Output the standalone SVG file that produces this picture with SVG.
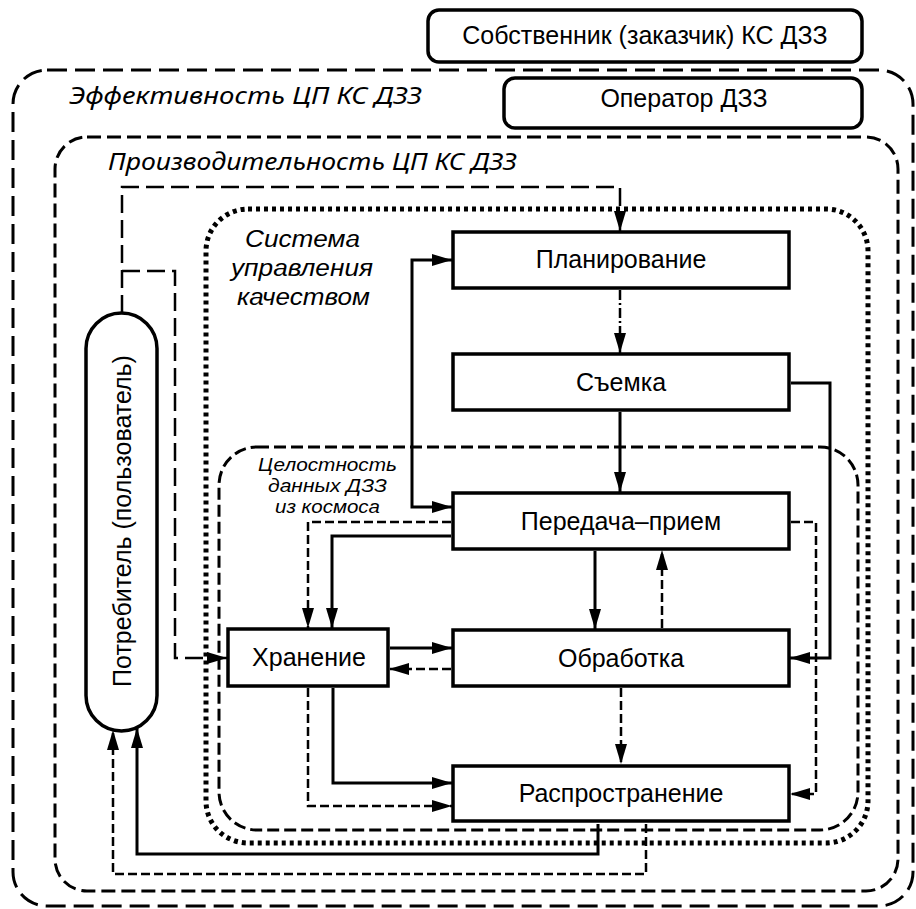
<svg xmlns="http://www.w3.org/2000/svg" width="916" height="909" viewBox="0 0 916 909">
<defs>
<marker id="ah" viewBox="0 0 20 12" refX="20" refY="6" markerWidth="20" markerHeight="12" markerUnits="userSpaceOnUse" orient="auto"><path d="M0,0 L20,6 L0,12 z" fill="#000"/></marker>
</defs>
<style>
.box{fill:#fff;stroke:#000;stroke-width:3.5}
.lbl{font-family:"Liberation Sans",Arial,sans-serif;font-size:25px;fill:#000;text-anchor:middle}
.it{font-family:"Noto Sans","Liberation Sans",sans-serif;font-style:italic;fill:#000}
.it2{font-family:"Liberation Sans",Arial,sans-serif;font-style:italic;fill:#000}
.reg{fill:none;stroke:#000}
.solid{fill:none;stroke:#000;stroke-width:3}
.dash{fill:none;stroke:#000;stroke-width:2.5;stroke-dasharray:9 4}
.ldash{fill:none;stroke:#000;stroke-width:2.5;stroke-dasharray:18 7}
.ddot{fill:none;stroke:#000;stroke-width:2.5;stroke-dasharray:10 3 2 3}
.arr{marker-end:url(#ah)}
</style>
<rect width="916" height="909" fill="#fff"/>
<g id="regions">
<rect id="effectiveness" class="reg" x="13" y="70" width="900" height="836" rx="34" stroke-width="3" stroke-dasharray="20 8"/>
<rect id="productivity" class="reg" x="55" y="137" width="843" height="754" rx="32" stroke-width="3" stroke-dasharray="14 6"/>
<rect id="quality" class="reg" x="206" y="209" width="662" height="634" rx="42" stroke-width="5" stroke-dasharray="4 4"/>
<rect id="integrity" class="reg" x="219" y="447" width="639" height="383" rx="38" stroke-width="3" stroke-dasharray="12 5"/>
<text class="it" x="69" y="104" font-size="24" textLength="353" lengthAdjust="spacingAndGlyphs">Эффективность ЦП КС ДЗЗ</text>
<text class="it" x="108" y="170" font-size="24" textLength="409" lengthAdjust="spacingAndGlyphs">Производительность ЦП КС ДЗЗ</text>
<text class="it2" x="245" y="247" font-size="23" textLength="115" lengthAdjust="spacingAndGlyphs">Система</text>
<text class="it2" x="231" y="276" font-size="23" textLength="142" lengthAdjust="spacingAndGlyphs">управления</text>
<text class="it2" x="237" y="305" font-size="23" textLength="133" lengthAdjust="spacingAndGlyphs">качеством</text>
<text class="it2" x="258" y="471" font-size="18" textLength="139" lengthAdjust="spacingAndGlyphs">Целостность</text>
<text class="it2" x="268" y="492" font-size="18" textLength="119" lengthAdjust="spacingAndGlyphs">данных ДЗЗ</text>
<text class="it2" x="275" y="513" font-size="18" textLength="105" lengthAdjust="spacingAndGlyphs">из космоса</text>
</g>
<g id="connectors">
<path class="ldash arr" d="M122,313 V187 H620 V231"/>
<path class="ldash arr" d="M122,271 H175 V658 H227"/>
<path class="solid arr" d="M412,383 V260 H452"/>
<path class="solid arr" d="M412,383 V507 H452"/>
<path class="ddot arr" d="M620,290 V353"/>
<path class="solid arr" d="M620,412 V492"/>
<path class="solid arr" d="M791,383 H830 V658 H790"/>
<path class="dash arr" d="M451,522 H308 V628"/>
<path class="solid arr" d="M451,536 H332 V628"/>
<path class="solid arr" d="M595,551 V629"/>
<path class="dash arr" d="M662,628 V550"/>
<path class="solid arr" d="M390,648 H452"/>
<path class="dash arr" d="M451,669 H389"/>
<path class="dash arr" d="M791,522 H816 V794 H790"/>
<path class="dash arr" d="M621,688 V764"/>
<path class="solid arr" d="M333,688 V783 H452"/>
<path class="dash arr" d="M308,688 V806 H452"/>
<path class="solid arr" d="M598,824 V854 H137 V728"/>
<path class="dash arr" d="M646,824 V874 H113 V730"/>
</g>
<g id="owner"><rect class="box" x="428" y="10" width="434" height="52" rx="11"/><text class="lbl" x="645" y="44">Собственник (заказчик) КС ДЗЗ</text></g>
<g id="operator"><rect class="box" x="504" y="78" width="358" height="50" rx="11"/><text class="lbl" x="684" y="107">Оператор ДЗЗ</text></g>
<g id="consumer"><rect class="box" x="86" y="313" width="71" height="418" rx="35.5" ry="35.5"/><text class="lbl" transform="translate(131,521) rotate(-90)">Потребитель (пользователь)</text></g>
<g id="planning"><rect class="box" x="453" y="232" width="336" height="56"/><text class="lbl" x="621" y="268" font-size="22">Планирование</text></g>
<g id="survey"><rect class="box" x="453" y="354" width="336" height="56"/><text class="lbl" x="621" y="391" font-size="22">Съемка</text></g>
<g id="transfer"><rect class="box" x="453" y="493" width="336" height="56"/><text class="lbl" x="621" y="530">Передача–прием</text></g>
<g id="processing"><rect class="box" x="453" y="630" width="336" height="56"/><text class="lbl" x="621" y="667">Обработка</text></g>
<g id="storage"><rect class="box" x="228" y="629" width="160" height="57"/><text class="lbl" x="309" y="666">Хранение</text></g>
<g id="distribution"><rect class="box" x="453" y="766" width="336" height="55"/><text class="lbl" x="621" y="802">Распространение</text></g>
</svg>
